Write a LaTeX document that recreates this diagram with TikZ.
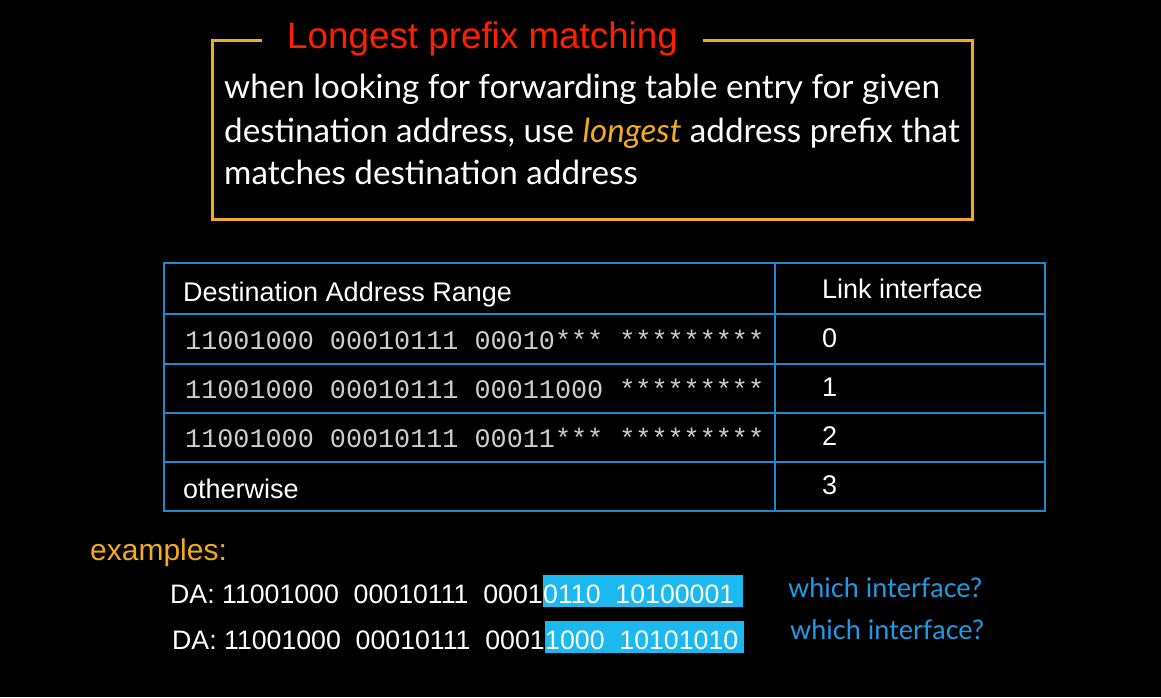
\documentclass[tikz,border=0pt]{standalone}
\usepackage{fontspec}
\setmainfont{Liberation Sans}
\setmonofont{Liberation Mono}
\newfontfamily\gill{Lato}
\definecolor{frameorange}{RGB}{243,170,30}
\definecolor{titlered}{RGB}{255,30,0}
\definecolor{gridblue}{RGB}{28,138,208}
\definecolor{hiblue}{RGB}{28,184,240}
\definecolor{askblue}{RGB}{30,155,228}
\definecolor{bitgray}{RGB}{205,205,205}
\newcommand{\fs}[1]{\fontsize{#1}{#1}\selectfont}

\begin{document}
\begin{tikzpicture}[x=1pt, y=-1pt,
   every node/.style={inner sep=0pt, text=white},
   frame/.style={frameorange, line width=3pt},
   rule/.style={gridblue, line width=2.5pt},
   body/.style={anchor=base west, font=\gill\fs{33.2}},
   head/.style={anchor=base west, font=\fs{27}},
   bits/.style={anchor=base west, font=\ttfamily\fs{26.8}, text=bitgray},
   da/.style={anchor=base west, font=\fs{26.7}},
   hilite/.style={da, fill=hiblue, text height=28pt, text depth=4pt},
   ask/.style={anchor=base west, font=\gill\fs{27}, text=askblue}]
   \fill [black] (0,0) rectangle (1161,697);
   \draw [frame] (212,40) rectangle (972,219);
   \node [anchor=base west, font=\fs{36.8}, text=titlered, fill=black, inner xsep=25pt, inner ysep=3pt] (title) at (262,48) {Longest prefix matching};
   \node [body] (line1) at (224,98) {when looking for forwarding table entry for given};
   \node [body] (line2) at (224,142) {destination address, use {\itshape\color{frameorange}longest} address prefix that};
   \node [body] (line3) at (224,184) {matches destination address};
   \draw [rule] (164,263) rectangle (1045,511);
   \draw [rule] (775,263) -- (775,511);
   \foreach \y in {314,364,413,462}
      \draw [rule] (164,\y) -- (1045,\y);
   \node [head] (range) at (183,301) {Destination Address Range};
   \node [head] (link) at (822,298) {Link interface};
   \node [bits] (bits0) at (185,349) {11001000 00010111 00010*** *********};
   \node [bits] (bits1) at (185,398) {11001000 00010111 00011000 *********};
   \node [bits] (bits2) at (185,447) {11001000 00010111 00011*** *********};
   \node [head] (other) at (183,498) {otherwise};
   \foreach \n/\y in {0/347,1/396,2/445,3/494}
      \node [head] (if\n) at (822,\y) {\n};
   \node [anchor=base west, font=\fs{30}, text=frameorange] (examples) at (90,560) {examples:};
   \node [da] (da1) at (170,603) {DA: 11001000~~00010111~~0001};
   \node [hilite, anchor=base west] (hi1) at (da1.base east) {0110~~10100001\kern9pt};
   \node [ask] (ask1) at (788,597) {which interface?};
   \node [da] (da2) at (172,649) {DA: 11001000~~00010111~~0001};
   \node [hilite, anchor=base west] (hi2) at (da2.base east) {1000~~10101010\kern6pt};
   \node [ask] (ask2) at (790,639) {which interface?};
\end{tikzpicture}
\end{document}
